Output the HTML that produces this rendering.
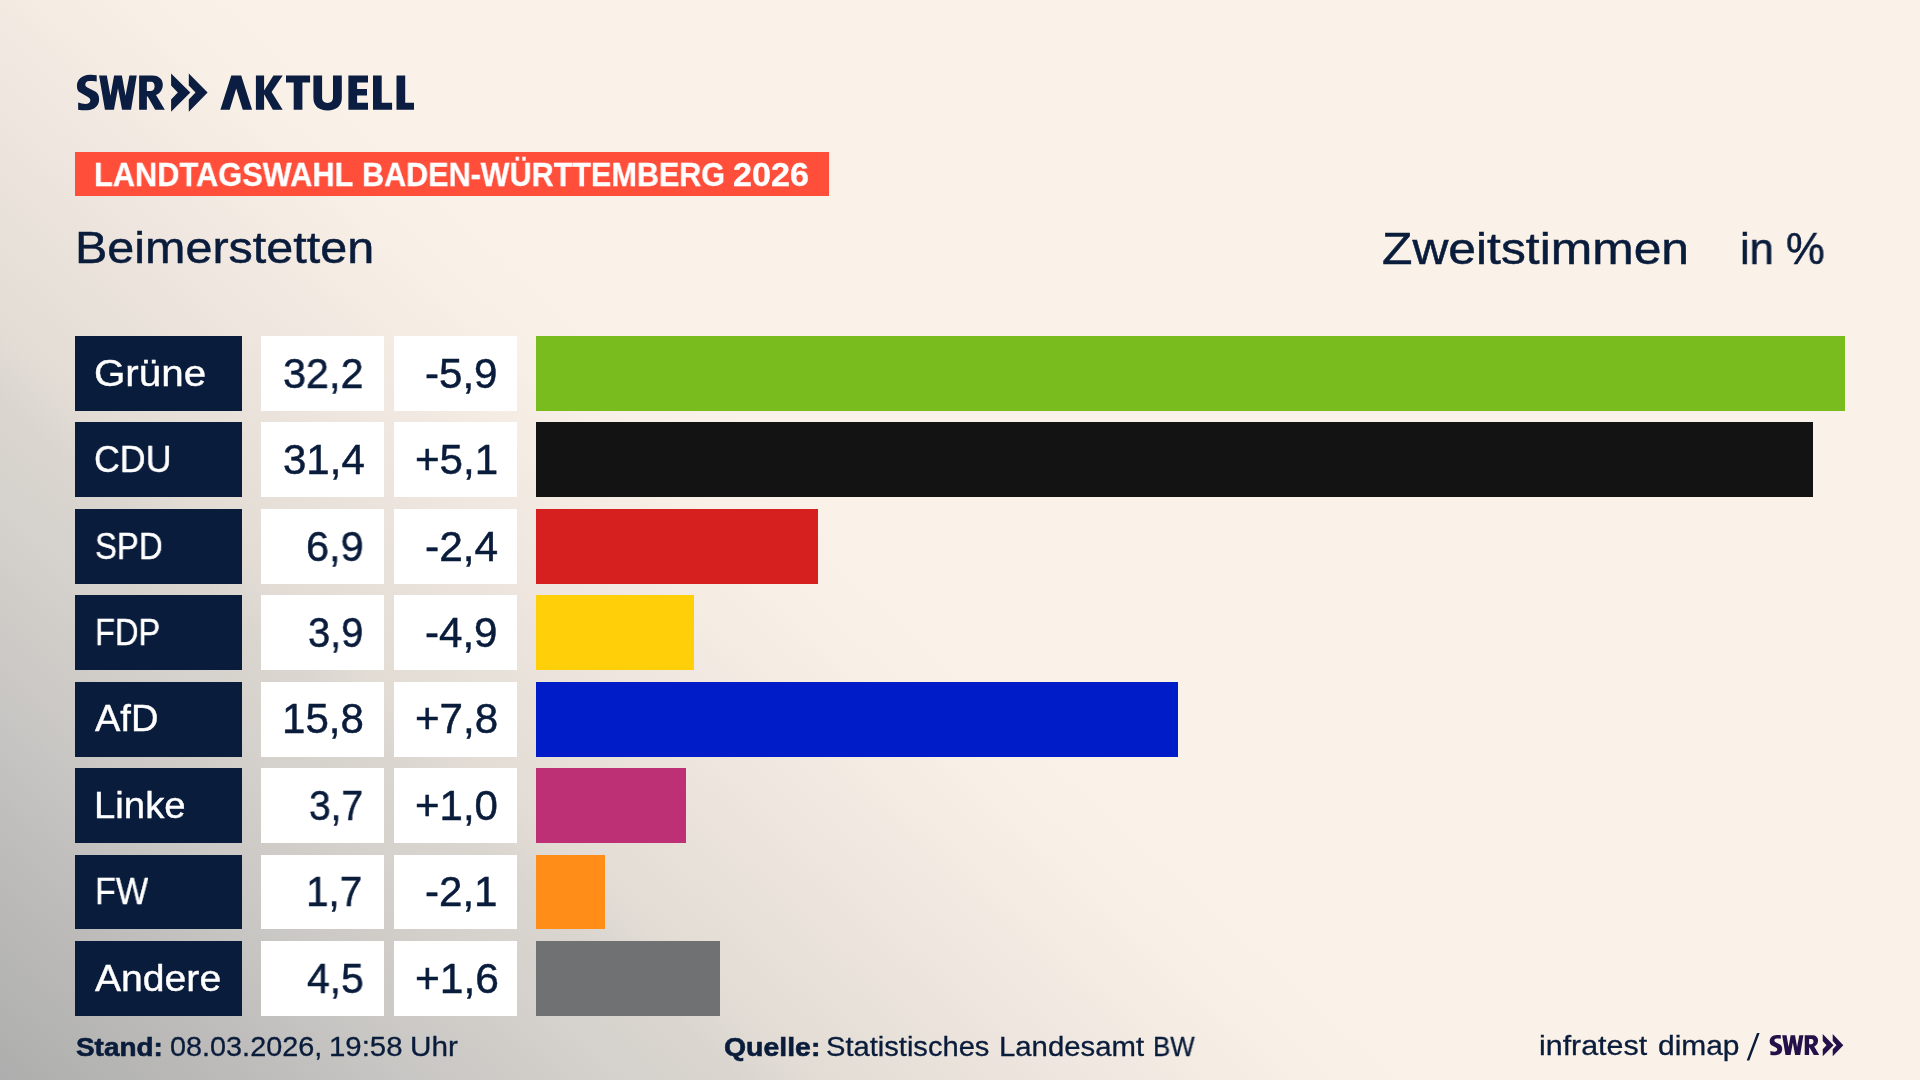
<!DOCTYPE html>
<html lang="de"><head><meta charset="utf-8"><title>Landtagswahl Baden-Württemberg 2026 – Beimerstetten</title>
<style>
html,body{margin:0;padding:0;}
body{width:1920px;height:1080px;overflow:hidden;position:relative;font-family:"Liberation Sans",sans-serif;
background:#faf2e8;}
#bg{position:absolute;left:0;top:0;width:1920px;height:1080px;
background:linear-gradient(42.5deg,#adadad 0px,#b3b3b2 59px,#bbbab9 150px,#c0bfbd 206px,#c9c7c4 285px,#cfccc8 354px,#d5d1cc 420px,#dad5cf 500px,#e2dcd5 550px,#e6dfd8 600px,#e9e2db 650px,#ece4dd 700px,#f0e8e0 745px,#f1e9e1 775px,#f3ebe2 800px,#f5ede4 830px,#f6eee5 860px,#f8f0e6 885px,#f9f1e7 915px,#faf2e8 1000px);}
.b{position:absolute;}
.t{position:absolute;white-space:nowrap;transform-origin:0 0;will-change:transform;}
#banner{position:absolute;left:75px;top:152.4px;width:753.7px;height:44px;background:#ff4f3b;}
svg{position:absolute;left:0;top:0;}
</style></head><body>
<div id="bg"></div>
<svg width="1920" height="1080" viewBox="0 0 1920 1080" aria-label="SWR Aktuell">
<g fill="#0b1d40" fill-rule="evenodd">
<path d="M96.69,75.30 C94.44,74.89 92.00,74.69 89.56,74.81 C82.22,75.09 76.93,79.37 76.93,85.89 C76.93,89.56 78.15,91.39 80.19,92.61 L87.93,96.89 C89.56,97.91 90.37,98.93 90.37,100.35 C90.37,102.59 88.33,104.02 85.48,104.02 C83.04,104.02 80.59,103.49 78.15,102.59 L78.15,109.72 C80.59,110.13 83.85,110.42 87.11,110.33 C94.44,110.13 99.13,105.85 99.13,99.33 C99.13,95.26 97.70,93.02 95.26,91.59 L88.33,87.93 C86.30,86.91 85.28,86.09 85.28,84.67 C85.28,82.43 86.70,81.00 89.15,81.00 C91.59,81.00 94.44,81.08 96.69,81.41 Z"/>
<path d="M99.06,75.40 L106.80,75.40 L110.46,95.67 L114.13,75.40 L121.87,75.40 L125.54,95.67 L129.41,75.40 L136.74,75.40 L131.04,109.72 L122.07,109.72 L118.00,88.33 L113.93,109.72 L104.96,109.72 Z"/>
<path d="M139.13,75.4 H152.4 C158.6,75.4 162.8,78.8 162.8,84.5 C162.8,89.5 160.2,93.3 156.0,95.1 L164.8,109.72 H155.2 L147.7,96.5 H146.87 V109.72 H139.13 Z M146.87,81.8 H151 C153.3,81.8 154.6,83.6 154.6,86.3 C154.6,89.2 153,91 150.5,91 H146.87 Z"/>
<path d="M171.1,73.4 L190.3,92.6 L171.1,111.8 V99.6 L177.80,92.6 L171.1,85.4 Z"/><path d="M188.8,73.4 L207.6,92.6 L188.8,111.8 V99.6 L195.50,92.6 L188.8,85.4 Z"/>
<path d="M220.4,109.8 L231.3,75.4 H241.2 L252.1,109.8 H242.8 L236.2,88.5 L229.7,109.8 Z"/><path d="M255.9,75.4 H264.1 V90.6 L273.4,75.4 H282.7 L271.6,92.0 L282.7,109.8 H272.9 L264.1,94.3 V109.8 H255.9 Z"/><path d="M286,75.4 H310.1 V82.5 H302.4 V109.8 H293.7 V82.5 H286 Z"/><path d="M313.4,75.4 H322.1 V97.5 C322.1,101 324,102.9 327.6,102.9 C331.2,102.9 333,101 333,97.5 V75.4 H341.8 V97.8 C341.8,106 336.5,110.5 327.6,110.5 C318.7,110.5 313.4,106 313.4,97.8 Z"/><path d="M348.4,75.4 H368 V82.5 H357.1 V89.1 H367 V95.6 H357.1 V102.7 H368 V109.8 H348.4 Z"/><path d="M373,75.4 H381.7 V102.7 H392.1 V109.8 H373 Z"/><path d="M396.5,75.4 H405.2 V102.7 H414 V109.8 H396.5 Z"/>
</g>
<g id="swr-small" fill="#23124a" fill-rule="evenodd" transform="translate(1769.7,1034.1) scale(0.5633,0.575) translate(-76.93,-73.4)">
<path d="M96.69,75.30 C94.44,74.89 92.00,74.69 89.56,74.81 C82.22,75.09 76.93,79.37 76.93,85.89 C76.93,89.56 78.15,91.39 80.19,92.61 L87.93,96.89 C89.56,97.91 90.37,98.93 90.37,100.35 C90.37,102.59 88.33,104.02 85.48,104.02 C83.04,104.02 80.59,103.49 78.15,102.59 L78.15,109.72 C80.59,110.13 83.85,110.42 87.11,110.33 C94.44,110.13 99.13,105.85 99.13,99.33 C99.13,95.26 97.70,93.02 95.26,91.59 L88.33,87.93 C86.30,86.91 85.28,86.09 85.28,84.67 C85.28,82.43 86.70,81.00 89.15,81.00 C91.59,81.00 94.44,81.08 96.69,81.41 Z"/>
<path d="M99.06,75.40 L106.80,75.40 L110.46,95.67 L114.13,75.40 L121.87,75.40 L125.54,95.67 L129.41,75.40 L136.74,75.40 L131.04,109.72 L122.07,109.72 L118.00,88.33 L113.93,109.72 L104.96,109.72 Z"/>
<path d="M139.13,75.4 H152.4 C158.6,75.4 162.8,78.8 162.8,84.5 C162.8,89.5 160.2,93.3 156.0,95.1 L164.8,109.72 H155.2 L147.7,96.5 H146.87 V109.72 H139.13 Z M146.87,81.8 H151 C153.3,81.8 154.6,83.6 154.6,86.3 C154.6,89.2 153,91 150.5,91 H146.87 Z"/>
<path d="M171.1,73.4 L190.3,92.6 L171.1,111.8 V99.6 L177.80,92.6 L171.1,85.4 Z"/><path d="M188.8,73.4 L207.6,92.6 L188.8,111.8 V99.6 L195.50,92.6 L188.8,85.4 Z"/>
</g>
<polygon fill="#0a1c3b" points="1757.0,1033 1759.6,1033 1749.3,1060.5 1746.7,1060.5"/>
</svg>
<div id="banner"></div>
<div class="b" style="left:75.00px;top:336.00px;width:167.00px;height:74.80px;background:#0a1c3b"></div>
<div class="b" style="left:261.00px;top:336.00px;width:123.00px;height:74.80px;background:#ffffff"></div>
<div class="b" style="left:394.00px;top:336.00px;width:123.00px;height:74.80px;background:#ffffff"></div>
<div class="b" style="left:536.00px;top:336.00px;width:1309.00px;height:74.80px;background:#78bc1e"></div>
<div class="b" style="left:75.00px;top:422.43px;width:167.00px;height:74.80px;background:#0a1c3b"></div>
<div class="b" style="left:261.00px;top:422.43px;width:123.00px;height:74.80px;background:#ffffff"></div>
<div class="b" style="left:394.00px;top:422.43px;width:123.00px;height:74.80px;background:#ffffff"></div>
<div class="b" style="left:536.00px;top:422.43px;width:1277.00px;height:74.80px;background:#131313"></div>
<div class="b" style="left:75.00px;top:508.86px;width:167.00px;height:74.80px;background:#0a1c3b"></div>
<div class="b" style="left:261.00px;top:508.86px;width:123.00px;height:74.80px;background:#ffffff"></div>
<div class="b" style="left:394.00px;top:508.86px;width:123.00px;height:74.80px;background:#ffffff"></div>
<div class="b" style="left:536.00px;top:508.86px;width:282.00px;height:74.80px;background:#d61f1f"></div>
<div class="b" style="left:75.00px;top:595.29px;width:167.00px;height:74.80px;background:#0a1c3b"></div>
<div class="b" style="left:261.00px;top:595.29px;width:123.00px;height:74.80px;background:#ffffff"></div>
<div class="b" style="left:394.00px;top:595.29px;width:123.00px;height:74.80px;background:#ffffff"></div>
<div class="b" style="left:536.00px;top:595.29px;width:158.00px;height:74.80px;background:#ffcf0a"></div>
<div class="b" style="left:75.00px;top:681.72px;width:167.00px;height:74.80px;background:#0a1c3b"></div>
<div class="b" style="left:261.00px;top:681.72px;width:123.00px;height:74.80px;background:#ffffff"></div>
<div class="b" style="left:394.00px;top:681.72px;width:123.00px;height:74.80px;background:#ffffff"></div>
<div class="b" style="left:536.00px;top:681.72px;width:642.00px;height:74.80px;background:#001cc8"></div>
<div class="b" style="left:75.00px;top:768.15px;width:167.00px;height:74.80px;background:#0a1c3b"></div>
<div class="b" style="left:261.00px;top:768.15px;width:123.00px;height:74.80px;background:#ffffff"></div>
<div class="b" style="left:394.00px;top:768.15px;width:123.00px;height:74.80px;background:#ffffff"></div>
<div class="b" style="left:536.00px;top:768.15px;width:150.00px;height:74.80px;background:#bd3075"></div>
<div class="b" style="left:75.00px;top:854.58px;width:167.00px;height:74.80px;background:#0a1c3b"></div>
<div class="b" style="left:261.00px;top:854.58px;width:123.00px;height:74.80px;background:#ffffff"></div>
<div class="b" style="left:394.00px;top:854.58px;width:123.00px;height:74.80px;background:#ffffff"></div>
<div class="b" style="left:536.00px;top:854.58px;width:69.00px;height:74.80px;background:#ff8d17"></div>
<div class="b" style="left:75.00px;top:941.01px;width:167.00px;height:74.80px;background:#0a1c3b"></div>
<div class="b" style="left:261.00px;top:941.01px;width:123.00px;height:74.80px;background:#ffffff"></div>
<div class="b" style="left:394.00px;top:941.01px;width:123.00px;height:74.80px;background:#ffffff"></div>
<div class="b" style="left:536.00px;top:941.01px;width:184.00px;height:74.80px;background:#707173"></div>
<div class="t" style="left:93.61px;top:158.000px;font-size:33.58px;line-height:33.58px;font-weight:bold;color:#ffffff;transform:scaleX(0.9166);-webkit-text-stroke:0.3px #ffffff;">LANDTAGSWAHL</div>
<div class="t" style="left:361.73px;top:158.000px;font-size:33.58px;line-height:33.58px;font-weight:bold;color:#ffffff;transform:scaleX(0.9096);-webkit-text-stroke:0.3px #ffffff;">BADEN-WÜRTTEMBERG</div>
<div class="t" style="left:733.49px;top:158.000px;font-size:33.58px;line-height:33.58px;font-weight:bold;color:#ffffff;transform:scaleX(1.0170);-webkit-text-stroke:0.3px #ffffff;">2026</div>
<div class="t" style="left:75.24px;top:226.000px;font-size:44.33px;line-height:44.33px;font-weight:normal;color:#0a1c3b;transform:scaleX(1.0937);-webkit-text-stroke:0.5px #0a1c3b;">Beimerstetten</div>
<div class="t" style="left:1382.48px;top:227.000px;font-size:44.33px;line-height:44.33px;font-weight:normal;color:#0a1c3b;transform:scaleX(1.1230);-webkit-text-stroke:0.5px #0a1c3b;">Zweitstimmen</div>
<div class="t" style="left:1740.02px;top:227.000px;font-size:44.33px;line-height:44.33px;font-weight:normal;color:#0a1c3b;transform:scaleX(0.9831);-webkit-text-stroke:0.5px #0a1c3b;">in %</div>
<div class="t" style="left:93.83px;top:355.000px;font-size:37.21px;line-height:37.21px;font-weight:normal;color:#ffffff;transform:scaleX(1.0839);-webkit-text-stroke:0.4px #ffffff;">Grüne</div>
<div class="t" style="left:283.45px;top:353.000px;font-size:42.01px;line-height:42.01px;font-weight:normal;color:#0a1c3b;transform:scaleX(0.9843);-webkit-text-stroke:0.5px #0a1c3b;">32,2</div>
<div class="t" style="left:425.19px;top:353.000px;font-size:42.01px;line-height:42.01px;font-weight:normal;color:#0a1c3b;transform:scaleX(1.0019);-webkit-text-stroke:0.5px #0a1c3b;">-5,9</div>
<div class="t" style="left:93.81px;top:441.000px;font-size:37.21px;line-height:37.21px;font-weight:normal;color:#ffffff;transform:scaleX(0.9620);-webkit-text-stroke:0.4px #ffffff;">CDU</div>
<div class="t" style="left:283.24px;top:439.000px;font-size:42.01px;line-height:42.01px;font-weight:normal;color:#0a1c3b;transform:scaleX(0.9975);-webkit-text-stroke:0.5px #0a1c3b;">31,4</div>
<div class="t" style="left:414.53px;top:439.000px;font-size:42.01px;line-height:42.01px;font-weight:normal;color:#0a1c3b;transform:scaleX(1.0031);-webkit-text-stroke:0.5px #0a1c3b;">+5,1</div>
<div class="t" style="left:94.65px;top:528.000px;font-size:37.21px;line-height:37.21px;font-weight:normal;color:#ffffff;transform:scaleX(0.8831);-webkit-text-stroke:0.4px #ffffff;">SPD</div>
<div class="t" style="left:306.30px;top:526.000px;font-size:42.01px;line-height:42.01px;font-weight:normal;color:#0a1c3b;transform:scaleX(0.9869);-webkit-text-stroke:0.5px #0a1c3b;">6,9</div>
<div class="t" style="left:425.18px;top:526.000px;font-size:42.01px;line-height:42.01px;font-weight:normal;color:#0a1c3b;transform:scaleX(1.0103);-webkit-text-stroke:0.5px #0a1c3b;">-2,4</div>
<div class="t" style="left:94.62px;top:614.000px;font-size:37.21px;line-height:37.21px;font-weight:normal;color:#ffffff;transform:scaleX(0.8778);-webkit-text-stroke:0.4px #ffffff;">FDP</div>
<div class="t" style="left:308.49px;top:612.000px;font-size:42.01px;line-height:42.01px;font-weight:normal;color:#0a1c3b;transform:scaleX(0.9485);-webkit-text-stroke:0.5px #0a1c3b;">3,9</div>
<div class="t" style="left:425.19px;top:612.000px;font-size:42.01px;line-height:42.01px;font-weight:normal;color:#0a1c3b;transform:scaleX(1.0019);-webkit-text-stroke:0.5px #0a1c3b;">-4,9</div>
<div class="t" style="left:95.20px;top:700.000px;font-size:37.21px;line-height:37.21px;font-weight:normal;color:#ffffff;transform:scaleX(1.0223);-webkit-text-stroke:0.4px #ffffff;">AfD</div>
<div class="t" style="left:282.12px;top:698.000px;font-size:42.01px;line-height:42.01px;font-weight:normal;color:#0a1c3b;transform:scaleX(1.0009);-webkit-text-stroke:0.5px #0a1c3b;">15,8</div>
<div class="t" style="left:414.53px;top:698.000px;font-size:42.01px;line-height:42.01px;font-weight:normal;color:#0a1c3b;transform:scaleX(1.0031);-webkit-text-stroke:0.5px #0a1c3b;">+7,8</div>
<div class="t" style="left:94.21px;top:787.000px;font-size:37.21px;line-height:37.21px;font-weight:normal;color:#ffffff;transform:scaleX(1.0302);-webkit-text-stroke:0.4px #ffffff;">Linke</div>
<div class="t" style="left:308.52px;top:785.000px;font-size:42.01px;line-height:42.01px;font-weight:normal;color:#0a1c3b;transform:scaleX(0.9261);-webkit-text-stroke:0.5px #0a1c3b;">3,7</div>
<div class="t" style="left:414.54px;top:785.000px;font-size:42.01px;line-height:42.01px;font-weight:normal;color:#0a1c3b;transform:scaleX(0.9949);-webkit-text-stroke:0.5px #0a1c3b;">+1,0</div>
<div class="t" style="left:94.51px;top:873.000px;font-size:37.21px;line-height:37.21px;font-weight:normal;color:#ffffff;transform:scaleX(0.9203);-webkit-text-stroke:0.4px #ffffff;">FW</div>
<div class="t" style="left:306.46px;top:871.000px;font-size:42.01px;line-height:42.01px;font-weight:normal;color:#0a1c3b;transform:scaleX(0.9621);-webkit-text-stroke:0.5px #0a1c3b;">1,7</div>
<div class="t" style="left:425.19px;top:871.000px;font-size:42.01px;line-height:42.01px;font-weight:normal;color:#0a1c3b;transform:scaleX(1.0019);-webkit-text-stroke:0.5px #0a1c3b;">-2,1</div>
<div class="t" style="left:95.21px;top:960.000px;font-size:37.21px;line-height:37.21px;font-weight:normal;color:#ffffff;transform:scaleX(1.0515);-webkit-text-stroke:0.4px #ffffff;">Andere</div>
<div class="t" style="left:306.60px;top:958.000px;font-size:42.01px;line-height:42.01px;font-weight:normal;color:#0a1c3b;transform:scaleX(0.9728);-webkit-text-stroke:0.5px #0a1c3b;">4,5</div>
<div class="t" style="left:414.51px;top:958.000px;font-size:42.01px;line-height:42.01px;font-weight:normal;color:#0a1c3b;transform:scaleX(1.0125);-webkit-text-stroke:0.5px #0a1c3b;">+1,6</div>
<div class="t" style="left:76.13px;top:1034.000px;font-size:26.45px;line-height:26.45px;font-weight:bold;color:#0a1c3b;transform:scaleX(1.0556);-webkit-text-stroke:0.6px #0a1c3b;">Stand:</div>
<div class="t" style="left:169.66px;top:1034.000px;font-size:26.89px;line-height:26.89px;font-weight:normal;color:#0a1c3b;transform:scaleX(1.0724);-webkit-text-stroke:0.3px #0a1c3b;">08.03.2026,</div>
<div class="t" style="left:328.73px;top:1034.000px;font-size:26.89px;line-height:26.89px;font-weight:normal;color:#0a1c3b;transform:scaleX(1.0930);-webkit-text-stroke:0.3px #0a1c3b;">19:58</div>
<div class="t" style="left:410.01px;top:1034.000px;font-size:26.89px;line-height:26.89px;font-weight:normal;color:#0a1c3b;transform:scaleX(1.1048);-webkit-text-stroke:0.3px #0a1c3b;">Uhr</div>
<div class="t" style="left:723.73px;top:1034.000px;font-size:26.45px;line-height:26.45px;font-weight:bold;color:#0a1c3b;transform:scaleX(1.0751);-webkit-text-stroke:0.6px #0a1c3b;">Quelle:</div>
<div class="t" style="left:826.45px;top:1034.000px;font-size:26.89px;line-height:26.89px;font-weight:normal;color:#0a1c3b;transform:scaleX(1.0832);-webkit-text-stroke:0.3px #0a1c3b;">Statistisches</div>
<div class="t" style="left:998.97px;top:1034.000px;font-size:26.89px;line-height:26.89px;font-weight:normal;color:#0a1c3b;transform:scaleX(1.0911);-webkit-text-stroke:0.3px #0a1c3b;">Landesamt</div>
<div class="t" style="left:1152.93px;top:1034.000px;font-size:26.89px;line-height:26.89px;font-weight:normal;color:#0a1c3b;transform:scaleX(0.9602);-webkit-text-stroke:0.3px #0a1c3b;">BW</div>
<div class="t" style="left:1538.67px;top:1033.000px;font-size:26.89px;line-height:26.89px;font-weight:normal;color:#0a1c3b;transform:scaleX(1.1308);-webkit-text-stroke:0.3px #0a1c3b;">infratest</div>
<div class="t" style="left:1657.73px;top:1033.000px;font-size:26.89px;line-height:26.89px;font-weight:normal;color:#0a1c3b;transform:scaleX(1.1130);-webkit-text-stroke:0.3px #0a1c3b;">dimap</div>
</body></html>
